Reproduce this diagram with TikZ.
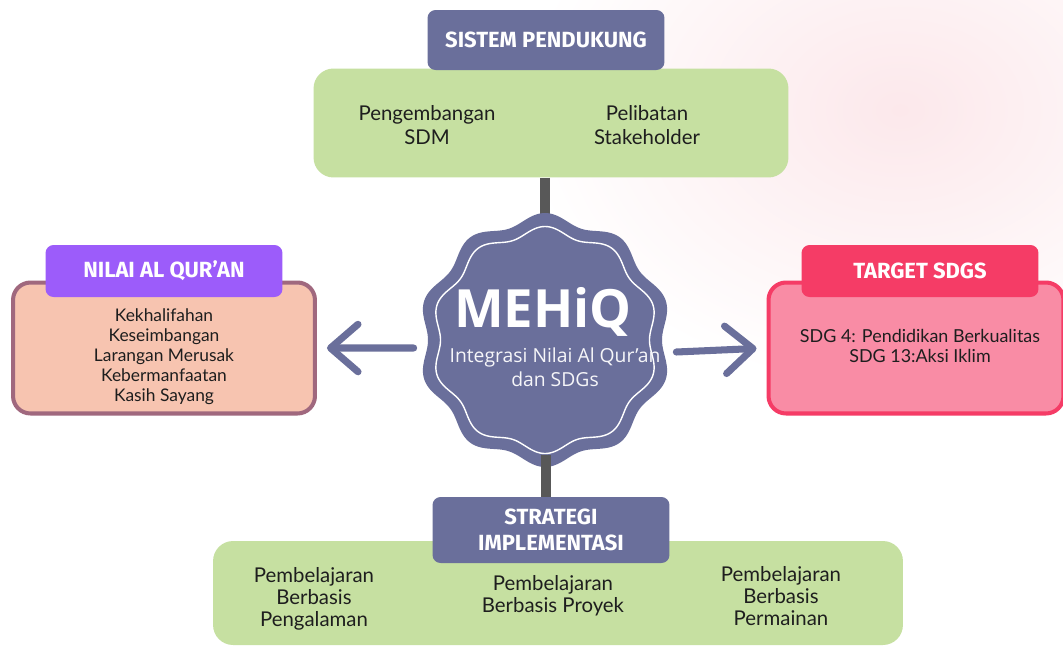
\documentclass[tikz,border=0pt]{standalone}
\usepackage{fontspec}
\setmainfont{Lato}
\newfontfamily\judulfont{Open Sans}
\newfontfamily\kepalafont{Fira Sans}
\usetikzlibrary{positioning,arrows.meta}

\definecolor{ungu}{RGB}{106,111,155}
\definecolor{hijau}{RGB}{198,224,161}
\definecolor{violet}{RGB}{156,92,250}
\definecolor{persik}{RGB}{247,196,176}
\definecolor{mauve}{RGB}{160,104,126}
\definecolor{merah}{RGB}{245,60,102}
\definecolor{merahmuda}{RGB}{249,140,165}
\definecolor{abu}{RGB}{88,88,88}
\definecolor{tinta}{RGB}{30,30,30}
\definecolor{awan}{RGB}{252,232,235}

\tikzset{
  kepala/.style={fill=#1, text=white, rounded corners=0.16cm, minimum width=4.74cm,
    align=center, font=\kepalafont\bfseries\fontsize{12.5}{14.5}\selectfont},
  kotak/.style={rounded corners=0.4cm, fill=hijau},
  isi/.style={text=tinta, align=center, font=\fontsize{11.6}{12.6}\selectfont},
  link/.style={draw=abu, line width=5.5pt},
  panah/.style={draw=ungu, line width=4pt, line cap=round,
    -{Straight Barb[length=0.55cm,width=0.95cm,round]}}
}

\begin{document}
\begin{tikzpicture}[x=0.02cm,y=-0.02cm]
\fill[white] (0,0) rectangle (1063,647);
\useasboundingbox (0,0) rectangle (1063,647);
% awan merah muda
\shade[inner color=awan, outer color=white] (900,110) ellipse [x radius=7.6cm, y radius=5.6cm];

\node (mehiq) [circle, minimum size=5.24cm, inner sep=0pt] at (545,340) {};

% sistem pendukung
\node[kotak, minimum width=9.5cm, minimum height=2.18cm] (pendukung) at (551,123) {};
\node[kepala=ungu, minimum height=1.2cm] (judulpendukung) at (546,40) {SISTEM PENDUKUNG};
\node[isi, font=\fontsize{11.6}{13.2}\selectfont] (sdm) at (427,125) {Pengembangan\\SDM};
\node[isi, font=\fontsize{11.6}{13.2}\selectfont] (stakeholder) at (647,125) {Pelibatan\\Stakeholder};

% strategi implementasi
\node[kotak, minimum width=13.8cm, minimum height=2.08cm] (strategi) at (558,593) {};
\node[kepala=ungu, minimum height=1.32cm] (judulstrategi) at (551,530) {STRATEGI\\IMPLEMENTASI};
\node[isi] (pengalaman) at (314,599) {Pembelajaran\\Berbasis\\Pengalaman};
\node[isi] (proyek) at (553,596) {Pembelajaran\\Berbasis Proyek};
\node[isi] (permainan) at (781,596) {Pembelajaran\\Berbasis\\Permainan};

\draw[link] (pendukung.south -| mehiq) -- (mehiq.center);

% lencana
\begin{scope}[shift={(mehiq.center)}]
  \fill[ungu] plot[domain=0:360,samples=361] (\x:{122+5*cos(10*\x-900)}) -- cycle;
  \draw[white, line width=0.8pt] plot[domain=0:360,samples=361] (\x:{109+4.5*cos(10*\x-900)}) -- cycle;
\end{scope}
\node[text=white, font=\judulfont\bfseries\fontsize{30}{30}\selectfont] (judul) at (543,312) {MEHiQ};
\node[text=white!94!ungu, align=center, font=\judulfont\fontsize{11}{13.6}\selectfont] (subjudul) at (555,367) {Integrasi Nilai Al Qur’an\\dan SDGs};

% nilai al qur'an
\node[draw=mauve, line width=2.3pt, fill=persik, rounded corners=0.35cm, minimum width=6.04cm, minimum height=2.62cm] (nilai) at (164,348) {};
\node[kepala=violet, minimum height=1.04cm] (judulnilai) at (164,271) {NILAI AL QUR’AN};
\node[isi, font=\fontsize{9.9}{11.4}\selectfont] (nilaiisi) at (164,357) {Kekhalifahan\\Keseimbangan\\Larangan Merusak\\Kebermanfaatan\\Kasih Sayang};

% target sdgs
\node[draw=merah, line width=2.3pt, fill=merahmuda, rounded corners=0.35cm, minimum width=5.9cm, minimum height=2.62cm] (sdg) at (916,348) {};
\node[kepala=merah, minimum height=1.04cm] (judulsdg) at (920,271) {TARGET SDGS};
\node[isi, font=\fontsize{10.2}{11.4}\selectfont] (sdgisi) at (920,346) {SDG 4: Pendidikan Berkualitas\\SDG 13:Aksi Iklim};

\draw[panah, shorten >=0.2cm] ([yshift=-0.16cm]mehiq.west) -- (nilai.east);
\draw[panah, shorten >=0.2cm] ([yshift=-0.24cm]mehiq.east) -- (sdg.west);

\coordinate (kaki) at (546,455);
\draw[link] (kaki) -- (kaki |- judulstrategi.north);
\end{tikzpicture}
\end{document}
